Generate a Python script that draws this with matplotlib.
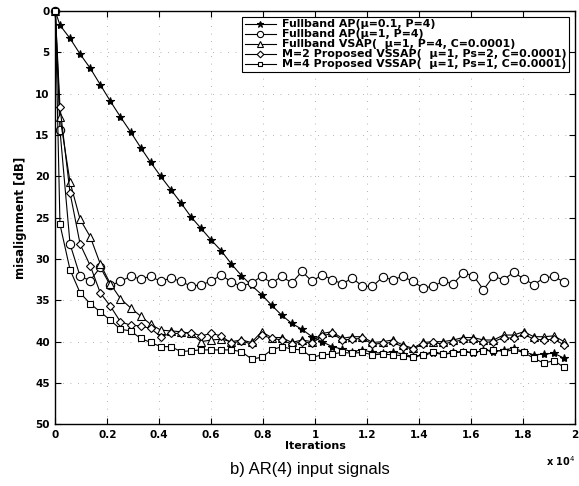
import numpy as np
import matplotlib
matplotlib.use("Agg")
import matplotlib.pyplot as plt

plt.rcParams['font.family'] = ['DejaVu Sans']

# iterations at which curves are sampled (start + 51 marker points)
iterations = [0] + [180 + 388 * k for k in range(51)]

ap_mu01 = [0, 1.7, 3.3, 5.2, 6.9, 8.9, 10.9, 12.8, 14.6, 16.5, 18.3, 20.0, 21.6, 23.2, 24.9,
           26.3, 27.7, 29.0, 30.6, 32.0, 33.2, 34.3, 35.6, 36.8, 37.8, 38.5, 39.4, 40.0, 40.6,
           40.9, 41.2, 41.0, 41.3, 41.4, 41.2, 41.5, 41.8, 41.6, 41.4, 41.5, 41.3, 41.2, 41.4,
           41.0, 41.2, 41.0, 40.8, 41.2, 41.6, 41.5, 41.4, 42.0]
ap_mu1 = [0, 14.4, 28.2, 32.1, 32.6, 31.0, 33.2, 32.7, 32.1, 32.4, 32.1, 32.7, 32.3, 32.7,
          33.3, 33.1, 32.7, 31.9, 32.8, 33.3, 32.9, 32.1, 32.9, 32.1, 32.9, 31.5, 32.7, 31.9,
          32.5, 33.0, 32.3, 33.3, 33.3, 32.2, 32.5, 32.1, 32.7, 33.5, 33.3, 32.7, 33.0, 31.7,
          32.0, 33.7, 32.1, 32.5, 31.6, 32.4, 33.1, 32.3, 32.1, 32.8]
vsap = [0, 12.8, 20.7, 25.2, 27.3, 30.6, 33.0, 34.8, 35.9, 36.9, 37.9, 38.6, 38.7, 38.8,
        39.0, 40.0, 39.8, 39.7, 40.0, 39.8, 40.1, 38.8, 39.5, 39.5, 40.1, 39.8, 40.0, 39.0,
        38.8, 39.6, 39.4, 39.4, 40.1, 40.0, 39.8, 40.4, 40.8, 40.1, 40.0, 40.0, 39.8, 39.5,
        39.5, 39.8, 39.8, 39.2, 39.2, 38.8, 39.4, 39.4, 39.3, 40.0]
vssap_m2 = [0, 11.6, 22.0, 28.2, 30.8, 34.1, 35.7, 37.6, 38.0, 38.1, 38.4, 39.4, 39.0, 39.0,
            38.9, 39.3, 39.0, 39.3, 40.2, 39.9, 40.3, 39.2, 39.6, 39.8, 40.3, 40.0, 40.2, 39.3,
            39.0, 39.8, 39.7, 39.6, 40.3, 40.2, 40.1, 40.6, 40.9, 40.3, 40.1, 40.3, 40.0, 39.8,
            39.8, 40.1, 40.0, 39.5, 39.6, 39.1, 39.7, 39.8, 39.7, 40.4]
vssap_m4 = [0, 25.8, 31.3, 34.1, 35.4, 36.4, 37.4, 38.5, 38.7, 39.6, 40.1, 40.6, 40.6, 41.2,
            41.1, 41.0, 41.0, 41.0, 41.0, 41.2, 42.1, 41.9, 41.0, 40.6, 40.9, 41.0, 41.9, 41.6,
            41.5, 41.3, 41.4, 41.3, 41.6, 41.5, 41.6, 41.7, 41.9, 41.6, 41.2, 41.5, 41.4, 41.2,
            41.3, 41.1, 41.0, 41.2, 41.0, 41.3, 42.0, 42.6, 42.3, 43.1]

labels = ["Fullband AP(\u03bc=0.1, P=4)",
          "Fullband AP(\u03bc=1, P=4)",
          "Fullband VSAP(  \u03bc=1, P=4, C=0.0001)",
          "M=2 Proposed VSSAP(  \u03bc=1, Ps=2, C=0.0001)",
          "M=4 Proposed VSSAP(  \u03bc=1, Ps=1, C=0.0001)"]
markers = ['*', 'o', '^', 'D', 's']
sizes = [6, 6, 5.5, 4.5, 4.5]
series = [ap_mu01, ap_mu1, vsap, vssap_m2, vssap_m4]

xticks = [0, 2000, 4000, 6000, 8000, 10000, 12000, 14000, 16000, 18000, 20000]
xticklabels = ['0', '0.2', '0.4', '0.6', '0.8', '1', '1.2', '1.4', '1.6', '1.8', '2']
yticks = [0, 5, 10, 15, 20, 25, 30, 35, 40, 45, 50]

fig = plt.figure(figsize=(5.79, 4.86), dpi=100)
ax = fig.add_axes([0.0955, 0.127, 0.8975, 0.850])

for vals, mk, ms, lab in zip(series, markers, sizes, labels):
    ax.plot(iterations, vals, color='black', lw=0.8, marker=mk, ms=ms,
            mfc='black' if mk == '*' else 'white', mec='black', mew=0.8,
            label=lab, clip_on=False, zorder=3)

ax.set_xlim(0, 20000)
ax.set_ylim(50, 0)
ax.set_xticks(xticks)
ax.set_xticklabels(xticklabels)
ax.set_yticks(yticks)
ax.tick_params(direction='in', top=True, right=True, length=4, width=0.8,
               labelsize=7.5, pad=4)
for t in ax.get_xticklabels() + ax.get_yticklabels():
    t.set_fontweight('bold')
for s in ax.spines.values():
    s.set_linewidth(1.0)
ax.grid(True, linestyle=(0, (1, 8)), color='#999999', lw=0.6)

ax.set_xlabel('Iterations', fontsize=8, fontweight='bold', labelpad=1)
ax.set_ylabel('misalignment [dB]', fontsize=8.5, fontweight='bold', labelpad=6)
ax.text(1.0, -0.072, 'x 10$^4$', transform=ax.transAxes, fontsize=7,
        fontweight='bold', ha='right', va='top')
fig.text(0.535, 0.018, 'b) AR(4) input signals', fontsize=12, ha='center', va='bottom',
         family='Liberation Sans')

leg = ax.legend(loc='upper right', prop={'weight': 'bold', 'size': 7.9},
                frameon=True, fancybox=False, edgecolor='black', framealpha=1,
                borderpad=0.25, labelspacing=0.0, handlelength=2.8, handletextpad=0.6,
                borderaxespad=0.5, markerscale=0.75)
leg.get_frame().set_linewidth(0.8)

fig.savefig('out.png', dpi=100)
